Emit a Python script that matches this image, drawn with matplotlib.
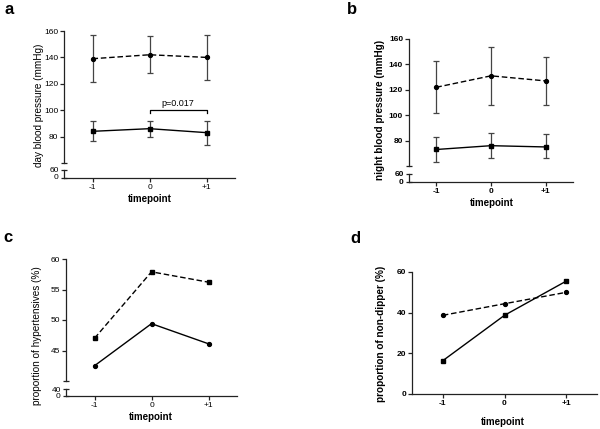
import numpy as np
import matplotlib
matplotlib.use('Agg')
import matplotlib.pyplot as plt

plt.rcParams['font.family'] = ['Liberation Sans', 'DejaVu Sans']

# data
timepoints = [-1, 0, 1]
tick_labels = ['-1', '0', '+1']

day_high = [139, 142, 140]
day_high_lo = [121, 128, 123]
day_high_hi = [157, 156, 157]
day_low = [84, 86, 83]
day_low_lo = [77, 80, 74]
day_low_hi = [92, 92, 92]

night_high = [122, 131, 127]
night_high_lo = [102, 108, 108]
night_high_hi = [143, 154, 146]
night_low = [73, 76, 75]
night_low_lo = [63, 66, 66]
night_low_hi = [83, 86, 85]

hyp_dash = [47.0, 57.9, 56.2]
hyp_solid = [42.5, 49.4, 46.1]

nondip_dash = [38.7, 44.4, 50.0]
nondip_solid = [16.4, 38.7, 55.5]

W, H = 600, 429
fig = plt.figure(figsize=(6, 4.29), dpi=100)


def box(x0, y0, x1, y1):
    # pixel box (top-left origin) -> figure fraction
    return [x0 / W, 1 - y1 / H, (x1 - x0) / W, (y1 - y0) / H]


def style_ax(ax, bold):
    for s in ['top', 'right']:
        ax.spines[s].set_visible(False)
    for s in ['left', 'bottom']:
        ax.spines[s].set_linewidth(0.9)
        ax.spines[s].set_color('#222222')
    ax.tick_params(length=3, width=0.9, labelsize=6, pad=1.2, color='#222222')
    ax.set_facecolor('none')
    if bold:
        for t in ax.get_xticklabels() + ax.get_yticklabels():
            t.set_fontweight('bold')


def broken_panel(xa, xb, ya, yb, yc, yd, ylim, yticks, low_top, bold):
    up = fig.add_axes(box(xa, ya, xb, yb))
    lo = fig.add_axes(box(xa, yc, xb, yd))
    up.set_xlim(-1.5, 1.5)
    lo.set_xlim(-1.5, 1.5)
    up.set_ylim(*ylim)
    up.set_yticks(yticks)
    up.set_xticks([])
    up.spines['bottom'].set_visible(False)
    lo.set_ylim(0, low_top)
    lo.set_yticks([0, low_top])
    lo.set_xticks(timepoints)
    lo.set_xticklabels(tick_labels)
    style_ax(up, bold)
    style_ax(lo, bold)
    lo.tick_params(axis='y', direction='inout', length=5)
    labs = lo.get_yticklabels()
    labs[0].set_va('center')
    labs[1].set_va('center_baseline')
    # end cap of upper segment
    up.plot([-1.5], [ylim[0]], marker='_', color='#222222', ms=5, mew=0.9,
            clip_on=False)
    return up, lo


def err(ax, x, y, lo, hi, ls, marker):
    yerr = [np.array(y) - np.array(lo), np.array(hi) - np.array(y)]
    ax.errorbar(x, y, yerr=yerr, fmt='none', ecolor='#444444', elinewidth=0.9,
                capsize=2.5, capthick=0.9, zorder=2)
    if ls == '--':
        ax.plot(x, y, color='black', lw=1.0, marker=marker, ms=2.8, zorder=3, dashes=(4, 2))
    else:
        ax.plot(x, y, color='black', lw=1.0, marker=marker, ms=3, zorder=3)


# panel a
a_up, a_lo = broken_panel(64, 235, 31, 163, 170, 178, (60, 160), [80, 100, 120, 140, 160], 60, False)
err(a_up, timepoints, day_high, day_high_lo, day_high_hi, '--', 'o')
err(a_up, timepoints, day_low, day_low_lo, day_low_hi, '-', 's')
a_up.plot([0, 0, 1, 1], [97.5, 100, 100, 97.5], color='black', lw=0.9)
a_up.text(0.5, 102, 'p=0.017', ha='center', va='bottom', fontsize=6.5)

# panel b
b_up, b_lo = broken_panel(409, 573, 39, 166, 174, 182, (60, 160), [80, 100, 120, 140, 160], 60, True)
err(b_up, timepoints, night_high, night_high_lo, night_high_hi, '--', 'o')
err(b_up, timepoints, night_low, night_low_lo, night_low_hi, '-', 's')

# panel c
c_up, c_lo = broken_panel(66, 237, 259, 381, 389, 396, (40, 60), [45, 50, 55, 60], 40, False)
c_up.plot(timepoints, hyp_dash, color='black', lw=1.0, marker='s', ms=3, dashes=(4, 2))
c_up.plot(timepoints, hyp_solid, color='black', lw=1.0, marker='o', ms=2.8)

# panel d
d = fig.add_axes(box(412, 272, 597, 394))
d.set_xlim(-1.5, 1.5)
d.set_ylim(0, 60)
d.set_yticks([0, 20, 40, 60])
d.set_xticks(timepoints)
d.set_xticklabels(tick_labels)
style_ax(d, True)
d.plot(timepoints, nondip_dash, color='black', lw=1.0, marker='o', ms=2.8, dashes=(4, 2), clip_on=False)
d.plot(timepoints, nondip_solid, color='black', lw=1.0, marker='s', ms=3, clip_on=False)

# labels
def ftext(x, y, s, **kw):
    fig.text(x / W, 1 - y / H, s, **kw)

ftext(39, 105, 'day blood pressure (mmHg)', rotation=90, ha='center', va='center', fontsize=7.2)
ftext(380, 110, 'night blood pressure (mmHg)', rotation=90, ha='center', va='center', fontsize=7.2, fontweight='bold')
ftext(37, 336, 'proportion of hypertensives (%)', rotation=90, ha='center', va='center', fontsize=7.2)
ftext(381, 334, 'proportion of non-dipper (%)', rotation=90, ha='center', va='center', fontsize=7.2, fontweight='bold')

ftext(150, 199, 'timepoint', ha='center', va='center', fontsize=7, fontweight='bold')
ftext(492, 203, 'timepoint', ha='center', va='center', fontsize=7, fontweight='bold')
ftext(151, 417, 'timepoint', ha='center', va='center', fontsize=7, fontweight='bold')
ftext(503, 422, 'timepoint', ha='center', va='center', fontsize=7, fontweight='bold')

ftext(9, 14, 'a', ha='center', va='baseline', fontsize=12, fontweight='bold')
ftext(352, 14, 'b', ha='center', va='baseline', fontsize=12, fontweight='bold')
ftext(8, 242, 'c', ha='center', va='baseline', fontsize=12, fontweight='bold')
ftext(355, 243, 'd', ha='center', va='baseline', fontsize=12, fontweight='bold')

fig.savefig('out.png', dpi=100)
